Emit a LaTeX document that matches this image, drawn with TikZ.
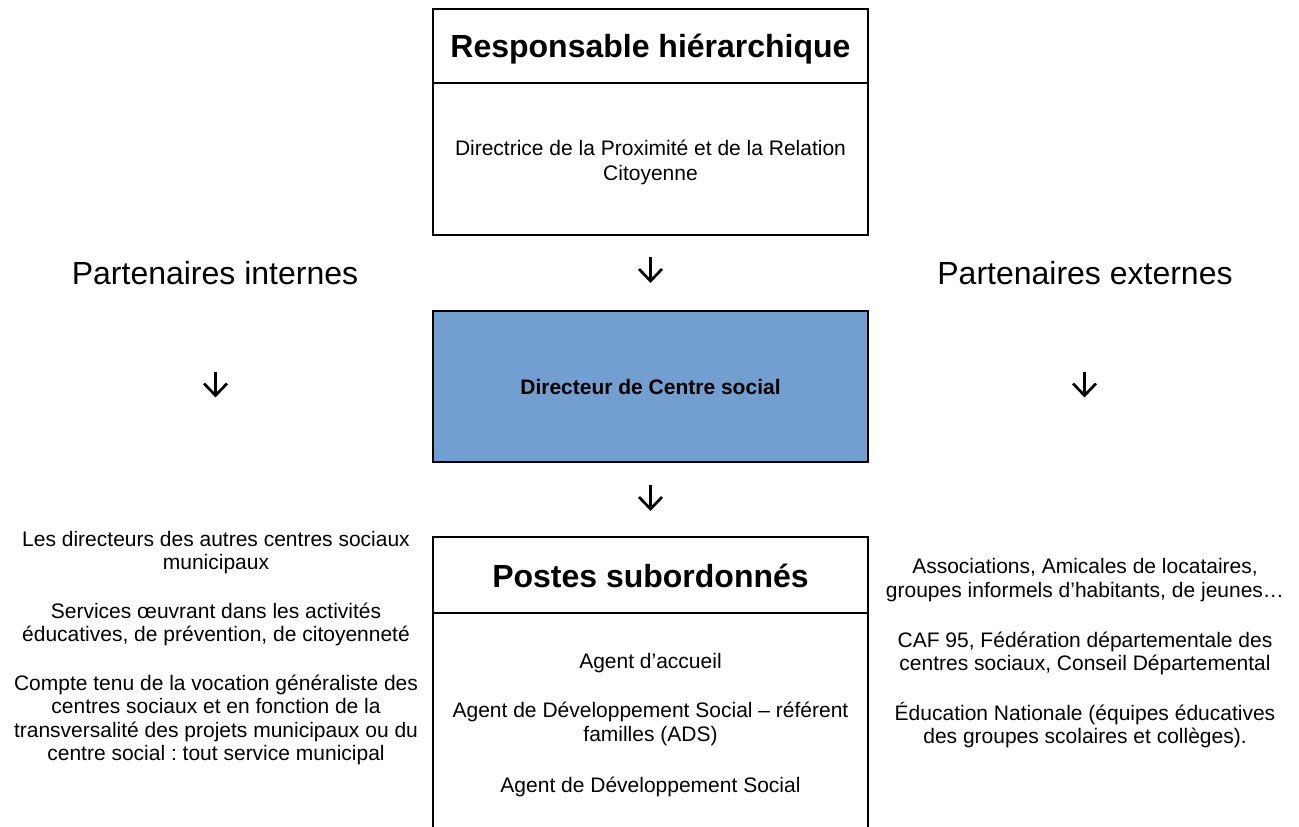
\documentclass[tikz,border=0pt]{standalone}
\usepackage{fontspec}
\setmainfont{Liberation Sans}
\definecolor{boxblue}{RGB}{114,159,207}
\newcommand\bodyfs{\fontsize{21}{23.7}\selectfont}
\newcommand\bigfs{\fontsize{32}{36}\selectfont}
\frenchspacing
\begin{document}
\begin{tikzpicture}[x=1pt,y=-1pt,
  box/.style={draw=black, line width=2.2pt, minimum width=435pt, inner sep=0pt},
  divider/.style={line width=2.2pt},
  title/.style={font=\bigfs\bfseries, anchor=base, inner sep=0pt},
  big/.style={font=\bigfs, anchor=base, inner sep=0pt},
  body/.style={font=\bodyfs, align=center, anchor=base, inner sep=0pt},
  bodybold/.style={font=\bodyfs\bfseries, anchor=base, inner sep=0pt},
  downarr/.pic={
    \draw[line width=2.7pt] (0,-13) -- (0,11);
    \draw[line width=2.7pt, line join=miter] (-11.5,-1) -- (0,11) -- (11.5,-1);
  }]
\useasboundingbox (0,0) rectangle (1299,827);
\clip (0,0) rectangle (1299,827);
% top box
\node[box, minimum height=226pt] (resp) at (650.5,122) {};
\draw[divider] (resp.west |- 0,83) -- (resp.east |- 0,83);
\node[title] (resptitle) at (650.5,57) {Responsable hiérarchique};
\node[body] (resptext1) at (650.5,155) {Directrice de la Proximité et de la Relation};
\node[body] (resptext2) at (650.5,180) {Citoyenne};
% partners headings
\node[big] (pint) at (215,284) {Partenaires internes};
\node[big] (pext) at (1085,284) {Partenaires externes};
% arrows
\pic (a1) at (650.5,270) {downarr};
\pic (a2) at (215.5,384.5) {downarr};
\pic (a3) at (1084.5,384.5) {downarr};
\pic (a4) at (650.5,498) {downarr};
% blue box
\node[box, fill=boxblue, minimum height=151pt] (dir) at (650.5,386.5) {};
\node[bodybold] (dirtext) at (650.5,394) {Directeur de Centre social};
% bottom box
\node[box, minimum height=363pt] (sub) at (650.5,718.5) {};
\draw[divider] (sub.west |- 0,613) -- (sub.east |- 0,613);
\node[title] (subtitle) at (650.5,587) {Postes subordonnés};
\node[body] (s1) at (650.5,668) {Agent d’accueil};
\node[body] (s2a) at (650.5,717) {Agent de Développement Social – référent};
\node[body] (s2b) at (650.5,741) {familles (ADS)};
\node[body] (s3) at (650.5,792) {Agent de Développement Social};
% left texts
\node[body] (l1a) at (216,546) {Les directeurs des autres centres sociaux};
\node[body] (l1b) at (216,569) {municipaux};
\node[body] (l2a) at (216,618) {Services œuvrant dans les activités};
\node[body] (l2b) at (216,641) {éducatives, de prévention, de citoyenneté};
\node[body] (l3a) at (216,690) {Compte tenu de la vocation généraliste des};
\node[body] (l3b) at (216,713) {centres sociaux et en fonction de la};
\node[body] (l3c) at (216,737) {transversalité des projets municipaux ou du};
\node[body] (l3d) at (216,760) {centre social : tout service municipal};
% right texts
\node[body] (r1a) at (1085,573) {Associations, Amicales de locataires,};
\node[body] (r1b) at (1085,597) {groupes informels d’habitants, de jeunes…};
\node[body] (r2a) at (1085,647) {CAF 95, Fédération départementale des};
\node[body] (r2b) at (1085,670) {centres sociaux, Conseil Départemental};
\node[body] (r3a) at (1085,720) {Éducation Nationale (équipes éducatives};
\node[body] (r3b) at (1085,743) {des groupes scolaires et collèges).};
\end{tikzpicture}
\end{document}
